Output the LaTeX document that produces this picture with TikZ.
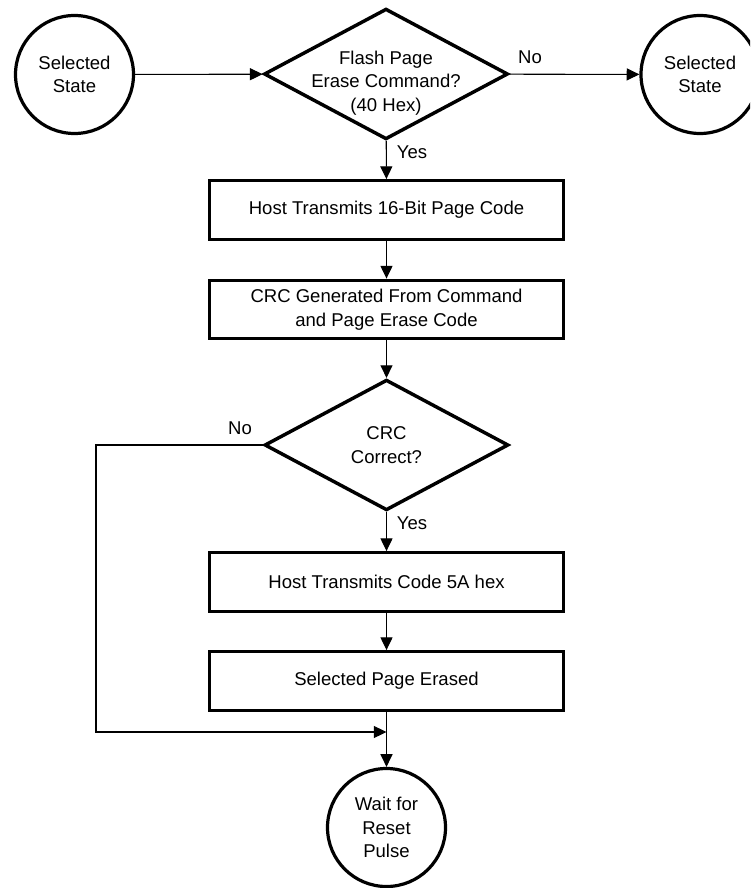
\documentclass[tikz,border=0pt]{standalone}
\usepackage{fontspec}
\setmainfont{Liberation Sans}
\usetikzlibrary{arrows.meta,shapes.geometric}
\tikzset{
  base/.style={font=\fontsize{13.9}{17.6}\selectfont, align=center, text=black},
  boxnode/.style={base, draw, line width=2.4pt, rectangle, minimum width=266pt, minimum height=44pt, inner sep=0pt},
  roundnode/.style={base, draw, line width=2.4pt, circle, minimum size=88.5pt, inner sep=0pt},
  decision/.style={draw, line width=2.6pt, diamond, minimum width=183pt, minimum height=98pt, inner sep=0pt},
  txt/.style={base, inner sep=0pt},
  conn/.style={line width=0.8pt, -{Triangle[length=9.5pt,width=9pt]}},
  plain/.style={line width=0.8pt},
}
\begin{document}
\begin{tikzpicture}[x=0.75pt,y=-0.75pt]
\clip (0,0) rectangle (750,888);
\fill[white] (0,0) rectangle (750,888);

\node[roundnode] (s1) at (74.5,74.5) {Selected\\State};
\node[decision] (d1) at (386,74) {};
\node[txt] (d1t) at (386,83) {Flash Page\\Erase Command?\\(40 Hex)};
\node[roundnode] (s2) at (700,74.5) {Selected\\State};

\node[boxnode] (b1) at (386.5,210) {Host Transmits 16-Bit Page Code};
\node[boxnode] (b2) at (386.5,309.5) {CRC Generated From Command\\and Page Erase Code};
\node[decision] (d2) at (386.5,445) {};
\node[txt] (d2t) at (386.5,445) {CRC\\Correct?};
\node[boxnode] (b3) at (386.5,582) {Host Transmits Code 5A hex};
\node[boxnode] (b4) at (386.5,681) {Selected Page Erased};
\node[roundnode] (w) at (386.5,827.5) {Wait for\\Reset\\Pulse};

\node[txt] (no1) at (530,57) {No};
\node[txt] (yes1) at (412,152) {Yes};
\node[txt] (no2) at (240,428) {No};
\node[txt] (yes2) at (412,523) {Yes};

\coordinate (fb) at (96,732);

\draw[conn] (s1) -- (d1);
\draw[conn] (d1) -- (s2);
\draw[conn] (d1) -- (b1);
\draw[conn] (b1) -- (b2);
\draw[conn] (b2) -- (d2);
\draw[conn] (d2) -- (b3);
\draw[conn] (b3) -- (b4);
\draw[conn] (b4) -- (w);
\draw[conn] (d2.west) -| (fb) -- (b4.south |- fb);
\end{tikzpicture}
\end{document}
